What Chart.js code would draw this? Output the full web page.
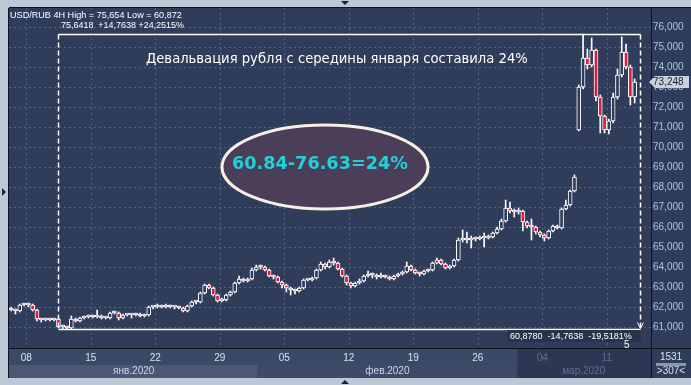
<!DOCTYPE html>
<html>
<head>
<meta charset="utf-8">
<script src="https://cdn.jsdelivr.net/npm/chart.js@4.4.0/dist/chart.umd.min.js"></script>
<style>
  html, body { margin: 0; padding: 0; background: #bdc8d6; }
  canvas { display: block; }
</style>
</head>
<body>
<canvas id="chart" width="691" height="385"></canvas>
<script>
// USD/RUB 4H, one candle per slot (index)
const opens = [61.95,61.85,61.80,62.10,62.15,62.10,61.85,61.40,61.35,61.40,61.35,61.40,61.00,61.00,60.95,61.40,61.30,61.45,61.50,61.55,
  61.50,61.55,61.45,61.45,61.70,61.70,61.45,61.60,61.60,61.60,61.65,61.55,61.60,62.00,62.00,62.05,62.00,62.05,62.00,62.00,
  61.95,61.80,62.05,62.25,62.25,62.70,63.10,62.95,62.60,62.30,62.35,62.60,62.75,63.20,63.40,63.30,63.40,63.85,64.00,64.00,
  63.85,63.55,63.50,63.25,63.10,62.95,62.85,62.80,62.95,63.35,63.35,63.45,63.85,64.15,64.00,64.25,64.20,63.90,63.55,63.20,
  63.05,63.20,63.30,63.55,63.65,63.60,63.50,63.55,63.50,63.40,63.55,63.65,63.75,64.05,63.85,63.70,63.65,63.80,63.85,64.20,
  64.35,64.15,63.95,64.05,64.35,65.35,65.40,65.35,65.45,65.40,65.45,65.45,65.50,65.70,65.90,66.30,66.95,66.80,66.75,66.80,
  66.25,66.05,66.00,65.75,65.60,65.45,65.80,66.05,65.95,66.90,67.10,67.80,70.85,73.00,74.45,74.10,74.85,72.50,71.55,70.85,
  71.30,72.50,73.60,74.75,74.00,72.50];
const highs = [62.00,61.90,62.15,62.20,62.20,62.15,61.90,61.45,61.45,61.45,61.45,61.45,61.10,61.05,61.55,61.45,61.50,61.55,61.60,61.60,
  61.85,61.60,61.50,61.75,61.80,61.75,61.65,61.65,61.65,61.70,61.70,61.65,62.05,62.05,62.15,62.10,62.15,62.10,62.05,62.05,
  62.00,62.10,62.30,62.30,62.75,63.15,63.15,63.00,62.65,62.45,62.65,62.80,63.25,63.55,63.45,63.45,63.95,64.10,64.10,64.05,
  63.90,63.60,63.55,63.30,63.15,63.00,62.90,63.00,63.40,63.40,63.50,63.90,64.25,64.20,64.35,64.45,64.25,63.95,63.60,63.25,
  63.25,63.40,63.60,63.80,63.70,63.65,63.70,63.60,63.55,63.60,63.70,63.80,64.25,64.10,63.90,63.75,63.85,63.90,64.25,64.45,
  64.40,64.20,64.10,64.40,65.45,65.85,65.75,65.55,65.50,65.55,65.70,65.60,65.75,66.00,66.40,67.35,67.25,66.90,66.95,66.85,
  66.30,66.40,66.05,65.80,65.65,65.85,66.10,66.10,66.95,67.35,67.85,68.60,73.10,75.65,74.90,75.45,74.90,72.60,71.60,71.40,
  72.70,73.90,75.50,75.15,74.10,73.40];
const lows = [61.80,61.65,61.75,62.05,62.00,61.80,61.30,61.25,61.30,61.30,61.30,60.95,60.87,60.90,60.90,61.25,61.25,61.40,61.45,61.45,
  61.45,61.40,61.40,61.40,61.65,61.35,61.40,61.55,61.45,61.55,61.50,61.50,61.55,61.90,61.95,61.95,61.95,61.95,61.90,61.90,
  61.75,61.75,62.00,62.15,62.20,62.65,62.90,62.55,62.25,62.25,62.30,62.55,62.70,63.15,63.25,63.25,63.35,63.80,63.90,63.80,
  63.50,63.40,63.20,62.95,62.75,62.60,62.65,62.75,62.90,63.30,63.30,63.40,63.80,63.90,63.95,64.10,63.85,63.50,63.10,62.95,
  63.00,63.15,63.25,63.50,63.45,63.40,63.45,63.45,63.35,63.35,63.50,63.60,63.70,63.80,63.65,63.55,63.60,63.75,63.80,64.15,
  64.10,63.90,63.90,64.00,64.30,65.25,65.20,64.95,65.30,65.35,65.00,65.40,65.45,65.65,65.85,66.25,66.70,66.50,66.65,65.80,
  65.95,65.35,65.65,65.50,65.30,65.40,65.75,65.90,65.90,66.85,67.05,67.75,70.80,72.90,73.90,74.00,72.30,70.70,70.70,70.65,
  71.20,72.40,73.50,73.90,72.10,72.20];
const closes = [61.85,61.80,62.10,62.15,62.10,61.85,61.40,61.35,61.40,61.35,61.40,61.00,61.00,60.95,61.40,61.30,61.45,61.50,61.55,61.50,
  61.55,61.45,61.45,61.70,61.70,61.45,61.60,61.60,61.60,61.65,61.55,61.60,62.00,62.00,62.05,62.00,62.05,62.00,62.00,61.95,
  61.80,62.05,62.25,62.25,62.70,63.10,62.95,62.60,62.30,62.35,62.60,62.75,63.20,63.40,63.30,63.40,63.85,64.00,64.00,63.85,
  63.55,63.50,63.25,63.10,62.95,62.85,62.80,62.95,63.35,63.35,63.45,63.85,64.15,64.00,64.25,64.20,63.90,63.55,63.20,63.05,
  63.20,63.30,63.55,63.65,63.60,63.50,63.55,63.50,63.40,63.55,63.65,63.75,64.05,63.85,63.70,63.65,63.80,63.85,64.20,64.35,
  64.15,63.95,64.05,64.35,65.35,65.40,65.35,65.45,65.40,65.45,65.45,65.50,65.70,65.90,66.30,66.95,66.80,66.75,66.80,66.25,
  66.05,66.00,65.75,65.60,65.45,65.80,66.05,65.95,66.90,67.10,67.80,68.50,73.00,74.45,74.10,74.85,72.50,71.55,70.85,71.30,
  72.50,73.60,74.75,74.00,72.50,73.25];

const priceTicks = [61,62,63,64,65,66,67,68,69,70,71,72,73,74,75,76];
const dateLabels = ['08','15','22','29','05','12','19','26','04','11'];
const dateSlots = [4,19,34,49,64,79,94,109,124,139];
const monthLabels = ['янв.2020','фев.2020','мар.2020'];
const monthSlots = [0,58,118];
const lastPrice = 73.248;
const measure = { from: 11.4, to: 146.7, hi: 75.6418, lo: 60.878 };

const fontFam = '"Liberation Sans", Arial, sans-serif';

const wicks = closes.map((c, i) => ({ x: i + 0.5, y: [lows[i], highs[i]] }));
const bodies = closes.map((c, i) => ({ x: i + 0.5, y: [opens[i], c] }));
const bodyFill = closes.map((c, i) => c < opens[i] ? '#e4183c' : '#2f3d5a');

// draw text scaled so it spans the given width
function fitText(ctx, txt, x, y, w, fam, weight) {
  ctx.font = (weight || '') + ' 20px ' + fam;
  const size = 20 * w / ctx.measureText(txt).width;
  ctx.font = (weight || '') + ' ' + size.toFixed(2) + 'px ' + fam;
  ctx.fillText(txt, x, y);
}

const panels = {
  id: 'panels',
  beforeDraw(chart) {
    const { ctx, chartArea: a, scales: { x, y } } = chart;
    ctx.save();
    ctx.fillStyle = '#bdc8d6';
    ctx.fillRect(0, 0, 691, 385);
    ctx.fillStyle = '#2f3d5a';
    ctx.fillRect(a.left, a.top, 691 - a.left, 378 - a.top);
    // date row + month row
    const mx = monthSlots.map(v => x.getPixelForValue(v));
    ctx.fillStyle = '#3b4966';
    ctx.fillRect(a.left, a.bottom, a.right - a.left, 17);
    ctx.fillStyle = '#4a5876';
    ctx.fillRect(mx[0], 365, mx[1] - mx[0], 13);
    ctx.fillStyle = '#3d4b68';
    ctx.fillRect(mx[1], 365, mx[2] - mx[1], 13);
    ctx.fillStyle = '#2b3753';
    ctx.fillRect(mx[2] + 1, a.bottom, a.right - mx[2] - 1, 30);
    ctx.fillStyle = '#3b4966';
    ctx.fillRect(mx[1] - 1, 365, 1, 13);
    ctx.fillRect(mx[2], a.bottom, 1, 30);
    ctx.font = '10px ' + fontFam;
    ctx.textAlign = 'center';
    ctx.textBaseline = 'middle';
    const mEnd = [mx[1], mx[2], a.right];
    monthLabels.forEach((m, k) => {
      ctx.fillStyle = k === 2 ? '#5d7190' : '#c9d6e6';
      ctx.fillText(m, (mx[k] + mEnd[k]) / 2, 371.5);
    });
    // dotted grid
    ctx.strokeStyle = '#55647f';
    ctx.lineWidth = 1;
    ctx.setLineDash([2, 3]);
    ctx.beginPath();
    priceTicks.forEach(v => {
      const py = Math.round(y.getPixelForValue(v)) + 0.5;
      ctx.moveTo(a.left, py); ctx.lineTo(a.right, py);
    });
    dateSlots.forEach(v => {
      const px = Math.round(x.getPixelForValue(v)) + 0.5;
      ctx.moveTo(px, a.top); ctx.lineTo(px, a.bottom);
    });
    ctx.stroke();
    ctx.restore();
  },
  afterDraw(chart) {
    const { ctx, chartArea: a, scales: { x, y } } = chart;
    ctx.save();
    // frame lines
    ctx.strokeStyle = '#0d1420';
    ctx.lineWidth = 1;
    ctx.beginPath();
    ctx.moveTo(a.right + 0.5, a.top); ctx.lineTo(a.right + 0.5, 378);
    ctx.moveTo(a.left, a.bottom + 0.5); ctx.lineTo(691, a.bottom + 0.5);
    ctx.moveTo(a.left - 0.5, a.top); ctx.lineTo(a.left - 0.5, 378);
    ctx.moveTo(a.left, a.top - 0.5); ctx.lineTo(691, a.top - 0.5);
    ctx.stroke();

    // measurement box
    const x0 = Math.round(x.getPixelForValue(measure.from)) + 0.5;
    const x1 = Math.round(x.getPixelForValue(measure.to)) + 0.5;
    const yh = Math.round(y.getPixelForValue(measure.hi)) + 0.5;
    const yl = Math.round(y.getPixelForValue(measure.lo)) + 0.5;
    ctx.strokeStyle = '#ffffff';
    ctx.lineWidth = 1.5;
    ctx.beginPath();
    ctx.moveTo(x0, yh); ctx.lineTo(x1, yh);
    ctx.moveTo(x0, yl); ctx.lineTo(x1, yl);
    ctx.stroke();
    ctx.setLineDash([5, 3]);
    ctx.beginPath();
    ctx.moveTo(x0, yh); ctx.lineTo(x0, yl);
    ctx.moveTo(x1, yh); ctx.lineTo(x1, yl - 2);
    ctx.stroke();
    ctx.setLineDash([]);
    ctx.lineWidth = 1;
    ctx.beginPath();
    ctx.moveTo(x1 - 3, yl - 7); ctx.lineTo(x1, yl - 1); ctx.lineTo(x1 + 3, yl - 7);
    ctx.stroke();

    ctx.textBaseline = 'middle';
    ctx.textAlign = 'left';
    ctx.fillStyle = '#ffffff';
    fitText(ctx, 'USD/RUB 4H High = 75,654 Low = 60,872', 10, 15, 172, fontFam);
    fitText(ctx, '75,6418  +14,7638 +24,2515%', 61, 26, 123, fontFam);
    ctx.fillStyle = '#28344d';
    ctx.fillRect(507, 330, 134, 12);
    ctx.fillStyle = '#ffffff';
    fitText(ctx, '60,8780  -14,7638  -19,5181%', 510, 336.5, 122, fontFam);
    ctx.font = '10px ' + fontFam;
    ctx.fillText('5', 624, 345);

    // caption
    fitText(ctx, 'Девальвация рубля с середины января составила 24%', 146, 60, 382, '"DejaVu Sans", sans-serif');

    // ellipse
    ctx.beginPath();
    ctx.ellipse(325, 167, 103, 42, 0, 0, Math.PI * 2);
    ctx.fillStyle = '#4a3e58';
    ctx.fill();
    ctx.strokeStyle = '#f6efe4';
    ctx.lineWidth = 3;
    ctx.stroke();
    ctx.fillStyle = '#22d0d8';
    fitText(ctx, '60.84-76.63=24%', 232, 164, 176, '"DejaVu Sans", sans-serif', 'bold');

    // last price tag
    const py = Math.round(y.getPixelForValue(lastPrice));
    ctx.fillStyle = '#c9d0da';
    ctx.beginPath();
    ctx.moveTo(649, py);
    ctx.lineTo(655, py - 6);
    ctx.lineTo(689, py - 6);
    ctx.lineTo(689, py + 6);
    ctx.lineTo(655, py + 6);
    ctx.closePath();
    ctx.fill();
    ctx.font = '10px ' + fontFam;
    ctx.fillStyle = '#10203a';
    ctx.fillText(lastPrice.toFixed(3).replace('.', ','), 653, py + 0.5);

    // corner box
    ctx.textAlign = 'center';
    ctx.fillStyle = '#d6e2ef';
    ctx.fillText('1531', 671, 357);
    ctx.fillText('>307<', 671, 371);
    ctx.strokeStyle = '#8a98ae';
    ctx.beginPath();
    ctx.moveTo(656, 364.5); ctx.lineTo(686, 364.5);
    ctx.stroke();

    // small markers on the frame
    ctx.fillStyle = '#1a2233';
    ctx.beginPath();
    ctx.moveTo(341, 1); ctx.lineTo(349, 1); ctx.lineTo(345, 5); ctx.closePath();
    ctx.moveTo(341, 384); ctx.lineTo(349, 384); ctx.lineTo(345, 380); ctx.closePath();
    ctx.moveTo(2, 188); ctx.lineTo(2, 196); ctx.lineTo(6, 192); ctx.closePath();
    ctx.fill();
    ctx.restore();
  }
};

new Chart(document.getElementById('chart'), {
  type: 'bar',
  data: {
    datasets: [
      {
        data: wicks,
        backgroundColor: '#ffffff',
        barThickness: 1,
        grouped: false,
        order: 2
      },
      {
        data: bodies,
        backgroundColor: bodyFill,
        borderColor: '#ffffff',
        borderWidth: 1,
        borderSkipped: false,
        barThickness: 4,
        minBarLength: 2,
        grouped: false,
        order: 1
      }
    ]
  },
  options: {
    responsive: false,
    animation: false,
    devicePixelRatio: 1,
    layout: { padding: { left: 9, top: 8, right: 0, bottom: 0 } },
    plugins: { legend: { display: false }, tooltip: { enabled: false } },
    scales: {
      x: {
        type: 'linear',
        offset: false,
        min: 0,
        max: 149.3,
        grid: { display: false, drawTicks: false },
        border: { display: false },
        afterBuildTicks: s => { s.ticks = dateSlots.map(v => ({ value: v })); },
        afterFit: s => { s.height = 37; },
        ticks: {
          autoSkip: false,
          maxRotation: 0,
          padding: 4,
          font: { size: 10, family: fontFam },
          color: c => c.tick && c.tick.value >= monthSlots[2] ? '#5d7190' : '#d6e2ef',
          callback: v => dateLabels[dateSlots.indexOf(v)]
        }
      },
      y: {
        position: 'right',
        min: 59.95,
        max: 76.95,
        grid: { display: false, drawTicks: false },
        border: { display: false },
        afterBuildTicks: s => { s.ticks = priceTicks.map(v => ({ value: v })); },
        afterFit: s => { s.width = 40; },
        ticks: {
          padding: 2,
          font: { size: 10, family: fontFam },
          color: '#a6c4ea',
          callback: v => v.toFixed(3).replace('.', ',')
        }
      }
    }
  },
  plugins: [panels]
});
</script>
</body>
</html>
